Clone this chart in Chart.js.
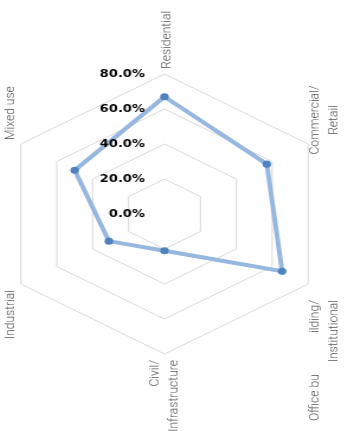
<!DOCTYPE html>
<html>
<head>
<meta charset="utf-8">
<script src="https://cdn.jsdelivr.net/npm/chart.js@4/dist/chart.umd.min.js"></script>
<style>
  html, body { margin: 0; padding: 0; background: #fff; overflow: hidden; width: 359px; height: 431px; }
  #wrap { position: relative; width: 359px; height: 431px; overflow: hidden; }
  #chart { position: absolute; left: -31px; top: 0; transform: scaleX(1.1848); transform-origin: 0 0; }
</style>
</head>
<body>
<div id="wrap"><canvas id="chart" width="330" height="431"></canvas></div>
<script>
// categories (the two-line ones are split like in the picture)
const categories = [
  "Residential",
  ["Commercial/", "Retail"],
  ["Office bu              ilding/", "Institutional"],
  ["Civil/", "Infrastructure"],
  "Industrial",
  "Mixed use",
];
const shares = [67, 57, 65.5, 21, 31, 50]; // percent
const tickMin = 0;
const tickMax = 80;
const tickStep = 20;

// how each rotated label sits next to its corner (offsets in canvas px)
const labelStyle = [
  { dx: 2, dy: -5, align: "up" },
  { dx: 13.5, dy: -24, align: "center" },
  { dx: 14, dy: 16, align: "down" },
  { dx: 0, dy: 6, align: "down" },
  { dx: -8.5, dy: 6, align: "down" },
  { dx: -8.5, dy: -4, align: "up" },
];
const lineGap = 16;

const tickLabels = {
  id: "tickLabels",
  afterDatasetsDraw(chart) {
    const scale = chart.scales.r;
    const ctx = chart.ctx;
    ctx.save();
    ctx.font = "bold 11px 'DejaVu Sans'";
    ctx.fillStyle = "#000";
    ctx.textAlign = "right";
    ctx.textBaseline = "middle";
    scale.ticks.forEach((t) => {
      const y = scale.yCenter - scale.getDistanceFromCenterForValue(t.value);
      ctx.fillText(t.value.toFixed(1) + "%", scale.xCenter - 16.5, y);
    });
    ctx.restore();
  },
};

const rotatedLabels = {
  id: "rotatedLabels",
  afterDraw(chart) {
    const scale = chart.scales.r;
    const ctx = chart.ctx;
    ctx.save();
    ctx.font = "300 11.5px Roboto";
    ctx.fillStyle = "#555";
    ctx.textBaseline = "middle";
    categories.forEach((label, i) => {
      const p = scale.getPointPosition(i, scale.drawingArea);
      const st = labelStyle[i];
      const lines = Array.isArray(label) ? label : [label];
      lines.forEach((line, j) => {
        const x = p.x + st.dx + (j - (lines.length - 1) / 2) * lineGap;
        ctx.save();
        ctx.translate(x, p.y + st.dy);
        ctx.rotate(-Math.PI / 2);
        ctx.scale(1.05, 1);
        ctx.textAlign = st.align === "up" ? "left" : st.align === "down" ? "right" : "center";
        ctx.fillText(line, 0, 0);
        ctx.restore();
      });
    });
    ctx.restore();
  },
};

new Chart(document.getElementById("chart"), {
  type: "radar",
  data: {
    labels: categories,
    datasets: [
      {
        data: shares,
        borderColor: "#97b7df",
        borderWidth: 4,
        backgroundColor: "transparent",
        fill: false,
        pointRadius: 3.6,
        pointBorderWidth: 0,
        pointBackgroundColor: "#4f81bd",
      },
    ],
  },
  options: {
    responsive: false,
    animation: false,
    layout: { padding: { top: 74, bottom: 77, left: 25, right: 25 } },
    plugins: { legend: { display: false }, tooltip: { enabled: false } },
    scales: {
      r: {
        min: tickMin,
        max: tickMax,
        ticks: { display: false, stepSize: tickStep },
        grid: { color: "#d9d9d9", lineWidth: 1 },
        angleLines: { display: false },
        pointLabels: { display: false },
      },
    },
  },
  plugins: [tickLabels, rotatedLabels],
});
</script>
</body>
</html>
